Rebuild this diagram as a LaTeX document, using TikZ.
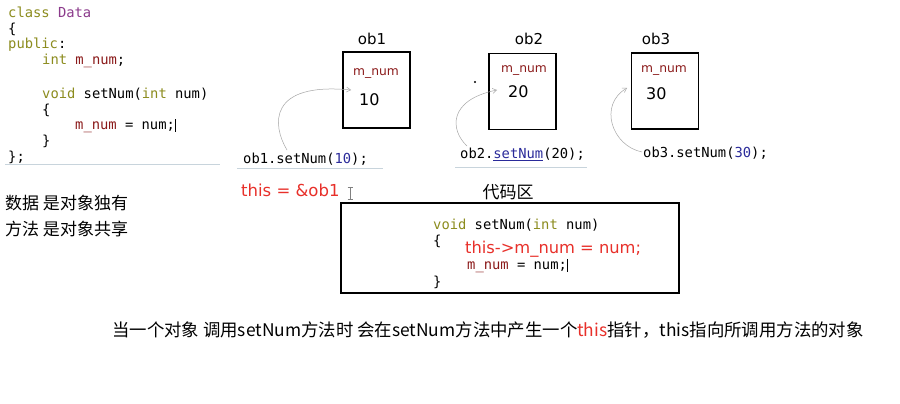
\documentclass[tikz,border=0pt]{standalone}
\usepackage{fontspec}
\setmainfont{DejaVu Sans}
\newfontfamily\cjk{Noto Sans CJK SC}
\newfontfamily\codefont{DejaVu Sans Mono}
\newfontfamily\labfont{DejaVu Sans}
\usetikzlibrary{arrows.meta}
\definecolor{kw}{HTML}{8C8C1E}
\definecolor{cls}{HTML}{8B3A8B}
\definecolor{mem}{HTML}{8B1A1A}
\definecolor{numc}{HTML}{2A2A9A}
\definecolor{redt}{HTML}{E8302A}
\definecolor{sep}{HTML}{C8D4DC}
\tikzset{
  code/.style={anchor=west, inner sep=0pt, font=\codefont\fontsize{13.8}{15}\selectfont},
  objbox/.style={draw=black, line width=1.3pt, minimum width=67pt, minimum height=76pt, inner sep=0pt},
  objlab/.style={anchor=center, inner sep=0pt, font=\labfont\fontsize{15}{18}\selectfont},
  memlab/.style={anchor=west, inner sep=0pt, text=mem, font=\labfont\fontsize{12.3}{14}\selectfont},
  val/.style={anchor=west, inner sep=0pt, font=\labfont\fontsize{16}{18}\selectfont},
  cjktext/.style={anchor=west, inner sep=0pt, font=\cjk\fontsize{17}{19}\selectfont},
  redtext/.style={anchor=west, inner sep=0pt, text=redt, font=\labfont\fontsize{16.5}{19}\selectfont},
  callarrow/.style={draw=gray!70, line width=0.5pt, -{Straight Barb[length=4pt,width=5pt]}},
  sepline/.style={draw=sep, line width=1pt}
}
\begin{document}
\begin{tikzpicture}[x=1pt,y=-1pt]
\useasboundingbox[fill=white] (0,0) rectangle (900,404);
% class code
\node[code] (c1) at (8,12) {\textcolor{kw}{class} \textcolor{cls}{Data}};
\node[code] (c2) at (8,29) {\{};
\node[code] (c3) at (8,45) {\textcolor{kw}{public}:};
\node[code] (c4) at (42,61) {\textcolor{kw}{int} \textcolor{mem}{m\_num};};
\node[code] (c5) at (42,94) {\textcolor{kw}{void} setNum(\textcolor{kw}{int} num)};
\node[code] (c6) at (42,110) {\{};
\node[code] (c7) at (75,126) {\textcolor{mem}{m\_num} = num;\rule[-2pt]{0.8pt}{13pt}};
\node[code] (c8) at (42,141) {\}};
\node[code] (c9) at (8,157) {\};};
\coordinate (s1a) at (5,164); \coordinate (s1b) at (220,164);
\draw[sepline] (s1a) -- (s1b);
% objects
\node[objbox] (ob1) at (376.5,90) {};
\node[objbox] (ob2) at (522.5,91.5) {};
\node[objbox] (ob3) at (665,91) {};
\node[objlab] (l1) at (372,39) {ob1};
\node[objlab] (l2) at (529,39) {ob2};
\node[objlab] (l3) at (656,39) {ob3};
\node[memlab] (m1) at (353,74) {m\_num};
\node[memlab] (m2) at (501,71) {m\_num};
\node[memlab] (m3) at (641,71) {m\_num};
\node[val] (v1) at (359,100) {10};
\node[val] (v2) at (508,92) {20};
\node[val] (v3) at (646,94) {30};
\fill (475,82) circle (1.1pt);
% calls
\node[code] (k1) at (243,159) {ob1.setNum(\textcolor{numc}{10});};
\node[code] (k2) at (460,154) {ob2.\textcolor{numc}{\underline{setNum}}(20);};
\node[code] (k3) at (643,153) {ob3.setNum(\textcolor{numc}{30});};
\coordinate (s2a) at (237,168); \coordinate (s2b) at (383,168);
\coordinate (s3a) at (455,167); \coordinate (s3b) at (587,167);
\draw[sepline] (s2a) -- (s2b);
\draw[sepline] (s3a) -- (s3b);
\coordinate (a1s) at (287,150); \coordinate (a1e) at (351,90);
\coordinate (a2s) at (467,146); \coordinate (a2e) at (497,90);
\coordinate (a3s) at (642,152); \coordinate (a3e) at (627,88);
\draw[callarrow] (a1s) .. controls (272,125) and (268,82) .. (a1e);
\draw[callarrow] (a2s) .. controls (450,130) and (448,100) .. (a2e);
\draw[callarrow] (a3s) .. controls (612,146) and (598,105) .. (a3e);
% this = &ob1
\node[redtext] (t1) at (241,190) {this = \&ob1};
\draw[gray, line width=0.8pt] (350,187) -- (350,199) (347.5,187) -- (352.5,187) (347.5,199) -- (352.5,199);
\node[cjktext, anchor=center] (cz) at (508,192) {代码区};
% code area
\node[draw=black, line width=2pt, minimum width=338pt, minimum height=90pt, inner sep=0pt] (area) at (510,248) {};
\node[code] (d1) at (433,225) {\textcolor{kw}{void} setNum(\textcolor{kw}{int} num)};
\node[code] (d2) at (433,241) {\{};
\node[redtext, font=\labfont\fontsize{16.3}{19}\selectfont] (d3) at (465,249) {this->m\_num = num;};
\node[code] (d4) at (467,266) {\textcolor{mem}{m\_num} = num;\rule[-2pt]{0.8pt}{13pt}};
\node[code] (d5) at (433,282) {\}};
% notes
\node[cjktext] (n1) at (5,203) {数据 是对象独有};
\node[cjktext] (n2) at (5,229) {方法 是对象共享};
\node[cjktext, font=\cjk\fontsize{17.4}{19}\selectfont] (n3) at (112,330) {当一个对象 调用setNum方法时 会在setNum方法中产生一个\textcolor{redt}{this}指针，this指向所调用方法的对象};
\end{tikzpicture}
\end{document}
